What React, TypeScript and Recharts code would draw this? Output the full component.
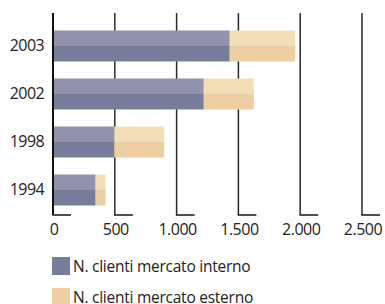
import { BarChart, Bar, XAxis, YAxis, CartesianGrid } from 'recharts';

const years = ['2003', '2002', '1998', '1994'];
const interno = [1430, 1220, 495, 345];
const esterno = [530, 405, 405, 80];
const xTicks = [0, 500, 1000, 1500, 2000, 2500];
const xTickLabels = ['0', '500', '1.000', '1.500', '2.000', '2.500'];

const FONT = '"Open Sans", sans-serif';

const data = years.map((year, i) => ({ year, interno: interno[i], esterno: esterno[i] }));

function XTick(props: any) {
  const { x, y, payload } = props;
  const idx = xTicks.indexOf(payload.value);
  return (
    <g>
      <line x1={x - 0.75} y1={y} x2={x + 18} y2={y} stroke="#222" strokeWidth={1.6} />
      <text x={x + 1} y={y + 19.5} textAnchor="middle" fontSize={16} fontFamily={FONT} fill="#222" letterSpacing={-0.5}>
        {xTickLabels[idx]}
      </text>
    </g>
  );
}

export default function App() {
  return (
    <div style={{ position: 'absolute', left: 0, top: 0, width: 385, height: 304, background: '#fff' }}>
      <BarChart
        width={385}
        height={304}
        data={data}
        layout="vertical"
        margin={{ top: 13, right: 23, bottom: 0, left: 8 }}
      >
        <defs>
          <linearGradient id="gInterno" x1="0" y1="0" x2="0" y2="1">
            <stop offset="0.5" stopColor="#9392ae" />
            <stop offset="0.5" stopColor="#767e9b" />
          </linearGradient>
          <linearGradient id="gEsterno" x1="0" y1="0" x2="0" y2="1">
            <stop offset="0.5" stopColor="#f4deb8" />
            <stop offset="0.5" stopColor="#efcda3" />
          </linearGradient>
        </defs>
        <CartesianGrid horizontal={false} stroke="#2a2a2a" strokeWidth={1.5} />
        <XAxis
          type="number"
          domain={[0, 2500]}
          ticks={xTicks}
          height={89}
          axisLine={false}
          tickLine={false}
          tickSize={0}
          tickMargin={0}
          tick={<XTick />}
          interval={0}
        />
        <YAxis
          type="category"
          dataKey="year"
          width={45}
          padding={{ top: 8.5, bottom: 1.5 }}
          axisLine={{ stroke: '#111', strokeWidth: 2 }}
          tickLine={false}
          tickSize={0}
          tickMargin={9}
          tick={{ fontSize: 16, fontFamily: FONT, fill: '#222', letterSpacing: -0.6 }}
        />
        <Bar dataKey="interno" stackId="a" fill="url(#gInterno)" barSize={31} isAnimationActive={false} />
        <Bar dataKey="esterno" stackId="a" fill="url(#gEsterno)" barSize={31} isAnimationActive={false} />
      </BarChart>
      <div style={{ position: 'absolute', left: 52, top: 257, fontFamily: FONT, fontSize: 15.5, color: '#222', letterSpacing: -0.25 }}>
        <div style={{ display: 'flex', alignItems: 'center', height: 18 }}>
          <span style={{ width: 18, height: 18, background: '#767e9b', marginRight: 3 }} />
          <span>N. clienti mercato interno</span>
        </div>
        <div style={{ display: 'flex', alignItems: 'center', height: 18, marginTop: 13 }}>
          <span style={{ width: 18, height: 18, background: '#efcda3', marginRight: 3 }} />
          <span>N. clienti mercato esterno</span>
        </div>
      </div>
    </div>
  );
}
